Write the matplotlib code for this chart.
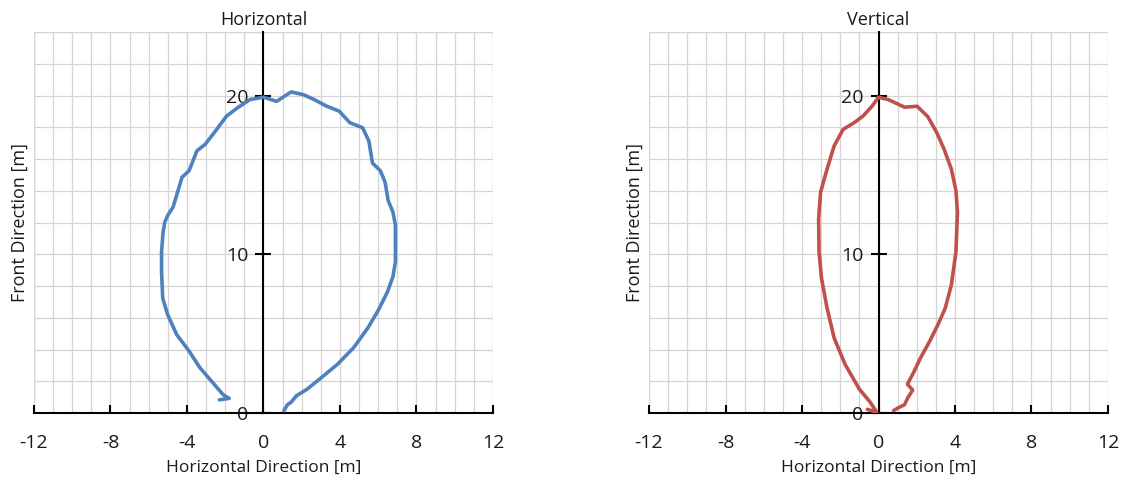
import matplotlib
matplotlib.use("Agg")
from matplotlib import pyplot as plt
from matplotlib.ticker import MultipleLocator

plt.rcParams["font.family"] = ["Open Sans", "DejaVu Sans"]
plt.rcParams["axes.unicode_minus"] = False

# horizontal pattern (blue)
horiz_x = [-2.30, -1.79, -2.11, -2.58, -3.33, -3.89, -4.54, -5.01, -5.27, -5.33,
           -5.33, -5.25, -5.16, -5.01, -4.73, -4.26, -3.89, -3.48, -3.05, -2.58,
           -1.93, -1.36, -0.71, 0.00, 0.69, 1.44, 2.09, 2.65, 3.31, 3.96,
           4.52, 5.18, 5.51, 5.70, 6.11, 6.36, 6.52, 6.77, 6.90, 6.90,
           6.77, 6.49, 6.02, 5.46, 4.71, 3.87, 3.03, 2.28, 1.72, 1.44,
           1.25, 1.07]
horiz_y = [0.83, 0.92, 1.15, 1.81, 2.86, 3.90, 4.94, 6.19, 7.24, 8.91,
           10.16, 11.41, 12.03, 12.45, 12.97, 14.85, 15.27, 16.52, 16.93, 17.66,
           18.71, 19.23, 19.75, 19.90, 19.64, 20.23, 20.06, 19.75, 19.33, 19.02,
           18.29, 17.98, 17.14, 15.75, 15.27, 14.54, 13.39, 12.66, 11.82, 9.53,
           8.59, 7.65, 6.51, 5.36, 4.11, 3.07, 2.23, 1.50, 1.08, 0.67,
           0.52, 0.15]

# vertical pattern (red)
vert_x = [-0.58, -0.09, -0.43, -1.00, -1.75, -2.32, -2.69, -2.98, -3.11, -3.13,
          -3.03, -2.69, -2.32, -1.85, -1.28, -0.81, -0.34, 0.00, 0.51, 1.36,
          2.02, 2.58, 3.05, 3.43, 3.81, 4.05, 4.13, 4.05, 3.81, 3.49,
          3.11, 2.68, 2.20, 1.83, 1.51, 1.79, 1.54, 1.36, 1.07, 0.79]
vert_y = [0.23, 0.04, 0.67, 1.50, 3.07, 4.73, 6.61, 8.49, 10.16, 12.24,
          13.91, 15.37, 16.83, 17.87, 18.29, 18.71, 19.33, 19.90, 19.75, 19.27,
          19.33, 18.67, 17.66, 16.62, 15.37, 14.01, 12.66, 10.16, 8.07, 6.61,
          5.57, 4.53, 3.48, 2.54, 1.81, 1.44, 0.98, 0.52, 0.35, 0.15]

x_ticks = [-12, -8, -4, 0, 4, 8, 12]
y_ticks = [0, 10, 20]

panels = [
    ("Horizontal", horiz_x, horiz_y, "#4f81bd", 0.0302),
    ("Vertical", vert_x, vert_y, "#c0504d", 0.5764),
]

fig = plt.figure(figsize=(11.26, 4.87), dpi=100)
text_color = "#1a1a1a"
grid_color = "#d4d4d4"

for title, xs, ys, color, left in panels:
    ax = fig.add_axes([left, 0.152, 0.4076, 0.782])
    ax.set_xlim(-12, 12)
    ax.set_ylim(0, 24)

    ax.xaxis.set_minor_locator(MultipleLocator(1))
    ax.yaxis.set_minor_locator(MultipleLocator(2))
    ax.set_xticks(x_ticks)
    ax.set_yticks(y_ticks)
    ax.grid(which="both", color=grid_color, linewidth=0.9)
    ax.set_axisbelow(True)
    # gridlines at the plot-area edges
    for v in (-12, 12):
        ax.axvline(v, color=grid_color, linewidth=0.9, zorder=0.5)
    ax.axhline(24, color=grid_color, linewidth=0.9, zorder=0.5)

    ax.spines["left"].set_position(("data", 0))
    ax.spines["bottom"].set_position(("data", 0))
    ax.spines["top"].set_visible(False)
    ax.spines["right"].set_visible(False)
    for s in ("left", "bottom"):
        ax.spines[s].set_color("black")
        ax.spines[s].set_linewidth(1.5)
        ax.spines[s].set_zorder(1)

    ax.tick_params(axis="x", which="major", direction="in", length=6, width=1.5,
                   pad=15, labelsize=14, labelcolor=text_color, color="black")
    ax.tick_params(axis="y", which="major", direction="inout", length=12, width=1.5,
                   pad=5, labelsize=14, labelcolor=text_color, color="black")
    ax.tick_params(which="minor", length=0)

    ax.plot(xs, ys, color=color, linewidth=2.6, solid_joinstyle="round",
            solid_capstyle="round", zorder=3)

    ax.set_title(title, fontsize=13, color=text_color, pad=5)
    ax.set_xlabel("Horizontal Direction [m]", fontsize=12.5, color=text_color, labelpad=6)
    ax.set_ylabel("Front Direction [m]", fontsize=13, color=text_color)
    ax.yaxis.set_label_coords(-0.012, 0.5)

fig.savefig("out.png", dpi=100, facecolor="white")
